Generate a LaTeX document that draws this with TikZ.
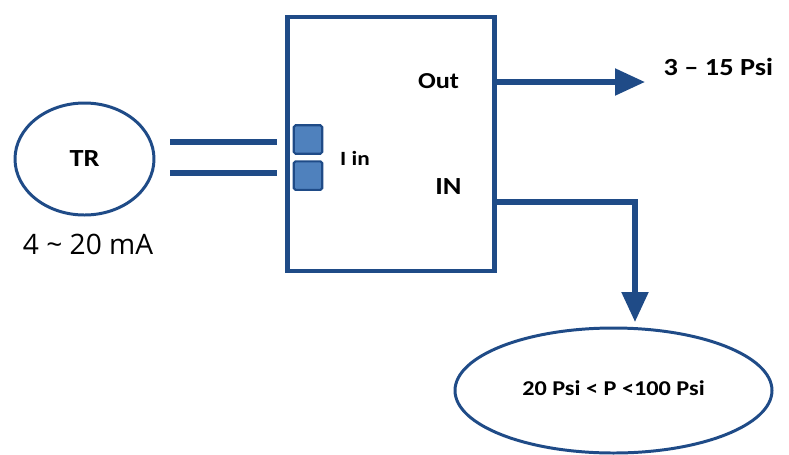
\documentclass[tikz,border=0pt]{standalone}
\usepackage{fontspec}
\setmainfont{Carlito}[FakeStretch=1.15]
\newfontfamily\rangefont{Open Sans}
\definecolor{darkblue}{RGB}{31,75,135}
\definecolor{padblue}{RGB}{79,129,189}
\usetikzlibrary{arrows.meta, positioning, shapes.geometric, calc}

\begin{document}
\begin{tikzpicture}[font=\bfseries,
    oval/.style={draw=darkblue, ellipse, line width=1.7pt, inner sep=0pt},
    pad/.style={draw=darkblue, fill=padblue, line width=1.2pt, rounded corners=1pt, minimum size=0.57cm, inner sep=0pt},
    wire/.style={draw=darkblue, line width=3pt},
    pipe/.style={draw=darkblue, line width=3pt, -{Triangle[length=0.6cm, width=0.52cm]}}]
  \useasboundingbox (0,0) rectangle (15.78,-9.08);
  % transmitter and its loop current
  \node[oval, minimum width=2.78cm, minimum height=2.24cm, font=\bfseries\fontsize{14}{16}\selectfont] (TR) at (1.69,-3.18) {TR};
  \node[font=\rangefont\fontsize{16}{19}\selectfont] (mA) at (1.76,-4.88) {4 \textasciitilde{} 20 mA};
  % converter box
  \node[draw=darkblue, line width=2.3pt, minimum width=4.14cm, minimum height=5.08cm] (box) at (7.82,-2.88) {};
  \node[pad] (padA) at (6.16,-2.79) {};
  \node[pad, below=0.11cm of padA] (padB) {};
  \node[font=\bfseries\fontsize{11.5}{14}\selectfont] (iin) at (7.1,-3.16) {I in};
  \node[font=\bfseries\fontsize{13}{15}\selectfont] (out) at (8.77,-1.63) {Out};
  \node[font=\bfseries\fontsize{14}{16}\selectfont] (in) at (8.97,-3.73) {IN};
  % supply pressure
  \node[oval, minimum width=6.34cm, minimum height=2.5cm, font=\bfseries\fontsize{12}{14}\selectfont] (supply) at (12.27,-7.81) {\raisebox{0.08cm}{20 Psi < P <100 Psi}};
  % wires and air lines
  \coordinate (w1) at (3.4,-2.84);
  \coordinate (w2) at (3.4,-3.46);
  \coordinate (tip) at (12.9,-1.64);
  \coordinate (drop) at (12.7,-6.44);
  \draw[wire] (w1) -- ([xshift=-0.16cm]box.west |- w1);
  \draw[wire] (w2) -- ([xshift=-0.16cm]box.west |- w2);
  \draw[pipe] (box.east |- tip) -- (tip);
  \node[right=0.25cm of tip, yshift=0.3cm, font=\bfseries\fontsize{14}{16}\selectfont] (outrange) {3 -- 15 Psi};
  \draw[pipe] ([yshift=-0.31cm]box.east |- in) -| (drop);
\end{tikzpicture}
\end{document}
